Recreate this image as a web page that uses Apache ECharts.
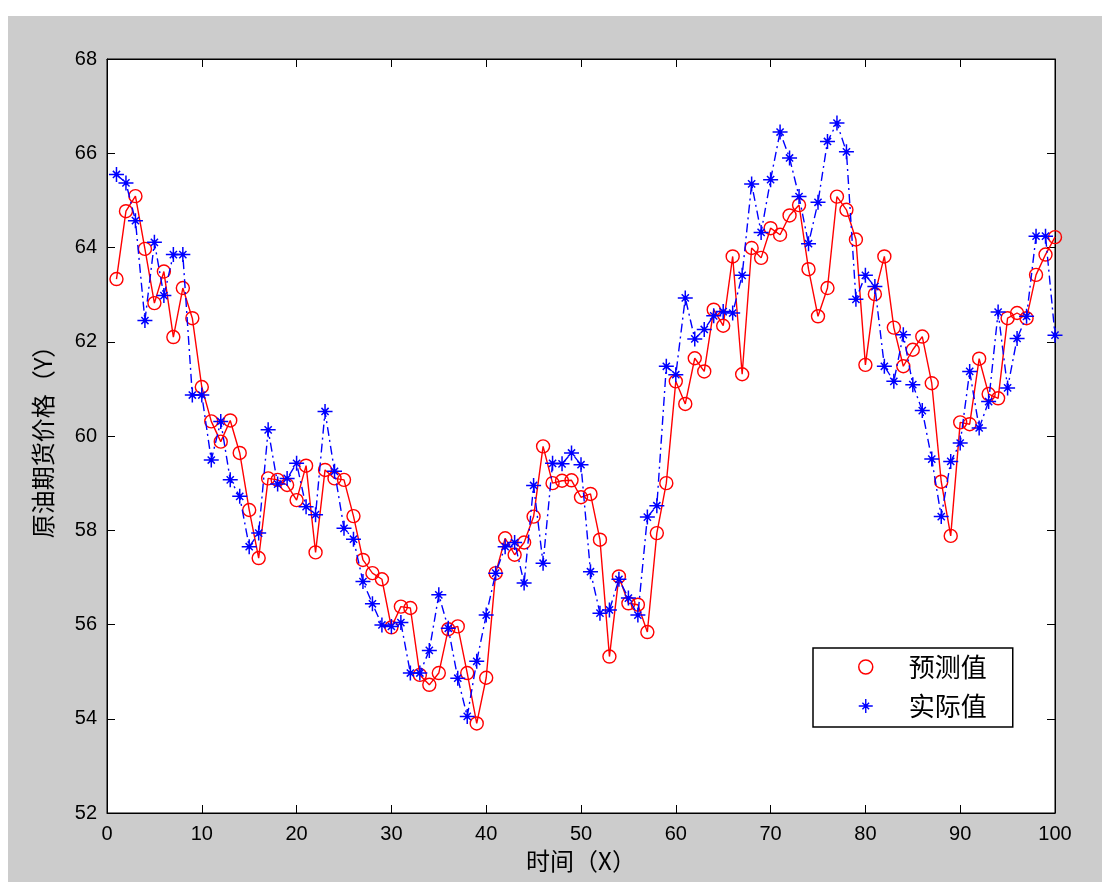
<!DOCTYPE html>
<html>
<head>
<meta charset="utf-8">
<script src="https://cdn.jsdelivr.net/npm/echarts@6/dist/echarts.min.js"></script>
<style>
html,body{margin:0;padding:0;background:#ffffff;}
#chart{width:1102px;height:882px;}
</style>
</head>
<body>
<div id="chart"></div>
<script>
var timeIdx = [1,2,3,4,5,6,7,8,9,10,11,12,13,14,15,16,17,18,19,20,21,22,23,24,25,26,27,28,29,30,31,32,33,34,35,36,37,38,39,40,41,42,43,44,45,46,47,48,49,50,51,52,53,54,55,56,57,58,59,60,61,62,63,64,65,66,67,68,69,70,71,72,73,74,75,76,77,78,79,80,81,82,83,84,85,86,87,88,89,90,91,92,93,94,95,96,97,98,99,100];

var predicted = [63.33,64.77,65.09,63.97,62.82,63.49,62.10,63.14,62.50,61.04,
60.31,59.88,60.33,59.64,58.43,57.41,59.10,59.07,58.96,58.64,
59.37,57.53,59.28,59.10,59.07,58.30,57.37,57.09,56.96,55.94,
56.38,56.35,54.93,54.72,54.97,55.90,55.96,54.97,53.90,54.87,
57.09,57.83,57.48,57.74,58.29,59.78,59.00,59.05,59.06,58.70,
58.77,57.80,55.32,57.02,56.45,56.42,55.84,57.94,59.00,61.16,
60.68,61.65,61.37,62.68,62.34,63.81,61.31,63.99,63.78,64.41,
64.27,64.68,64.90,63.54,62.54,63.14,65.08,64.80,64.17,61.51,
63.01,63.81,62.30,61.48,61.83,62.11,61.12,59.03,57.88,60.29,
60.25,61.64,60.89,60.80,62.50,62.61,62.50,63.42,63.85,64.22];

var actual = [65.55,65.37,64.57,62.45,64.11,62.98,63.85,63.85,60.87,60.87,
59.49,60.31,59.07,58.72,57.65,57.94,60.13,58.98,59.10,59.42,
58.50,58.33,60.52,59.25,58.04,57.81,56.91,56.44,55.99,55.96,
56.04,54.97,54.97,55.45,56.63,55.92,54.86,54.05,55.22,56.20,
57.09,57.65,57.74,56.88,58.95,57.30,59.42,59.41,59.64,59.39,
57.12,56.24,56.31,56.96,56.56,56.20,58.28,58.52,61.48,61.30,
62.93,62.06,62.26,62.55,62.64,62.61,63.41,65.35,64.32,65.44,
66.45,65.90,65.08,64.08,64.96,66.25,66.64,66.03,62.90,63.41,
63.17,61.48,61.16,62.15,61.09,60.54,59.51,58.29,59.46,59.85,
61.37,60.17,60.73,62.63,61.02,62.07,62.54,64.24,64.24,62.14];

var seriesNames = ['预测值','实际值'];
var xTitle = '时间（X）';
var yTitle = '原油期货价格（Y）';

var starPath = 'path://M9,0L11,0L11,20L9,20Z M0,9L20,9L20,11L0,11Z M4.5,5.9L5.9,4.5L15.5,14.1L14.1,15.5Z M14.1,4.5L15.5,5.9L5.9,15.5L4.5,14.1Z M7.3,7.3L12.7,7.3L12.7,12.7L7.3,12.7Z';

function pairs(vals){ return vals.map(function(v,i){ return [timeIdx[i], v]; }); }

var tickFont = {color:'#000', fontFamily:'Liberation Sans, Arial, sans-serif', fontSize:20};
var cjkFont = 'Noto Sans CJK SC';

var chart = echarts.init(document.getElementById('chart'), null, {renderer:'canvas'});
chart.setOption({
  backgroundColor:'#ffffff',
  animation:false,
  graphic:[{type:'rect', z:-10, silent:true, shape:{x:8,y:16,width:1094,height:866}, style:{fill:'#cccccc'}}],
  grid:{left:107, right:47, top:59, bottom:69, show:true, backgroundColor:'#ffffff', borderColor:'#000', borderWidth:1},
  legend:{
    orient:'vertical', left:813, top:648,
    backgroundColor:'#ffffff', borderColor:'#000', borderWidth:1.5, borderRadius:0,
    padding:[6,26,8,45], itemGap:13, itemWidth:14, itemHeight:14,
    textStyle:{fontFamily:cjkFont, fontSize:26, color:'#000', padding:[0,0,0,31]},
    data:[
      {name:seriesNames[0], icon:'circle', itemStyle:{color:'#ffffff', borderColor:'#ff0000', borderWidth:1.5}},
      {name:seriesNames[1], icon:starPath, itemStyle:{color:'#0000ff', borderWidth:0}}
    ]
  },
  xAxis:[
    {type:'value', min:0, max:100, interval:10, position:'bottom',
     name:xTitle, nameLocation:'middle', nameGap:36,
     nameTextStyle:{fontFamily:cjkFont, fontSize:24, color:'#000'},
     axisLine:{show:true, lineStyle:{color:'#000', width:1}},
     axisTick:{show:true, inside:true, length:8, lineStyle:{color:'#000'}},
     axisLabel:Object.assign({margin:11}, tickFont),
     splitLine:{show:false}},
    {type:'value', min:0, max:100, interval:10, position:'top',
     axisLine:{show:true, onZero:false, lineStyle:{color:'#000', width:1}},
     axisTick:{show:true, inside:true, length:8, lineStyle:{color:'#000'}},
     axisLabel:{show:false}, splitLine:{show:false}}
  ],
  yAxis:[
    {type:'value', min:52, max:68, interval:2, position:'left',
     name:yTitle, nameLocation:'middle', nameGap:52, nameRotate:90,
     nameTextStyle:{fontFamily:cjkFont, fontSize:24, color:'#000'},
     axisLine:{show:true, onZero:false, lineStyle:{color:'#000', width:1}},
     axisTick:{show:true, inside:true, length:8, lineStyle:{color:'#000'}},
     axisLabel:Object.assign({margin:10}, tickFont),
     splitLine:{show:false}},
    {type:'value', min:52, max:68, interval:2, position:'right',
     axisLine:{show:true, onZero:false, lineStyle:{color:'#000', width:1}},
     axisTick:{show:true, inside:true, length:8, lineStyle:{color:'#000'}},
     axisLabel:{show:false}, splitLine:{show:false}}
  ],
  series:[
    {name:seriesNames[0], type:'line', xAxisIndex:0, yAxisIndex:0, z:2,
     data:pairs(predicted), symbol:'circle', symbolSize:13,
     itemStyle:{color:'rgba(0,0,0,0)', borderColor:'#ff0000', borderWidth:1.4},
     lineStyle:{color:'#ff0000', width:1.4}},
    {name:seriesNames[1], type:'line', xAxisIndex:0, yAxisIndex:0, z:3,
     data:pairs(actual), symbol:starPath, symbolSize:15,
     itemStyle:{color:'#0000ff', borderWidth:0},
     lineStyle:{color:'#0000ff', width:1.4, type:[9,4,2,4]}}
  ]
});
</script>
</body>
</html>
